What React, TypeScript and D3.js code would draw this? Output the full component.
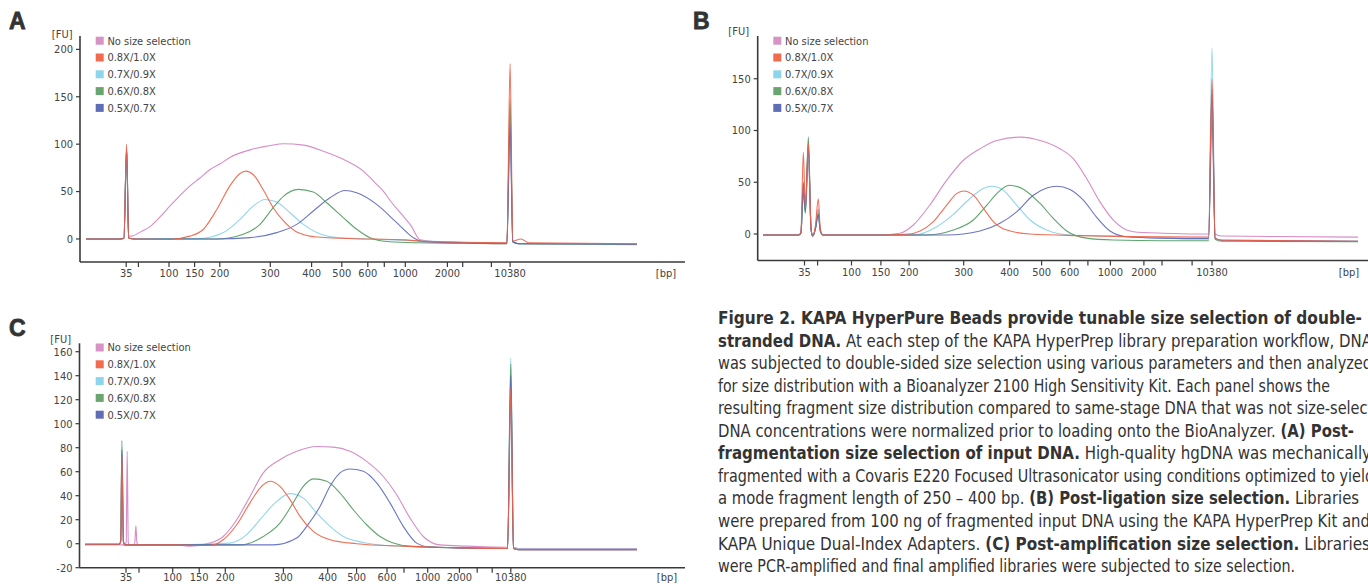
import React from 'react';
import * as d3 from 'd3';

// ladder sizes used on the size axis (bp)
const ladderBp = [35, 50, 100, 150, 200, 300, 400, 500, 600, 700, 1000, 2000, 3000, 7000, 10380];
const labeledBp = [35, 100, 150, 200, 300, 400, 500, 600, 1000, 2000, 10380];
const seriesNames = ['No size selection', '0.8X/1.0X', '0.7X/0.9X', '0.6X/0.8X', '0.5X/0.7X'];
const legendColors = ['#d693c4', '#f26b4f', '#8dd5ec', '#6aa46f', '#5f6db4'];
const lineColors = ['#d27fc0', '#ee5f45', '#86d0ea', '#4f9a5e', '#5b66bd'];

const yTicksA = [0, 50, 100, 150, 200];
const yTicksB = [0, 50, 100, 150];
const yTicksC = [-20, 0, 20, 40, 60, 80, 100, 120, 140, 160];

// panel A: post-fragmentation  [bp, FU]
const aPink = [[0, 0], [30, 0], [33, 1], [35.5, 97], [38, 3], [41, 3], [55, 8], [69, 13], [85, 23], [102, 35], [120, 45], [141, 56], [160, 64], [180, 73], [200, 79], [220, 86], [260, 94], [300, 98.6], [332, 100.5], [380, 99], [439, 92.6], [506, 84], [583, 71.6], [640, 60], [694, 50.5], [800, 39], [971, 24], [1150, 13], [1349, -1], [2170, -4], [5000, -4.5], [9800, -5], [10380, 132], [10900, -3], [12000, -5], [35000, -6]];
const aRed = [[0, 0], [30, 0], [33, 1], [35.5, 100], [38, 1], [45, 0], [100, -0.5], [141, 3], [167, 10], [194, 31], [220, 56], [240, 69], [252, 71.6], [266, 68], [286, 52], [307, 33], [332, 19], [364, 7.4], [417, 2], [531, 0.5], [1000, -1], [1271, -2], [3000, -3.5], [9800, -4], [10380, 185], [10900, -2], [12500, 0], [14000, -4], [35000, -5]];
const aCyan = [[0, 0], [30, 0], [33, 0.5], [35.5, 95], [38, 1], [45, 0], [161, 0.5], [207, 6.7], [240, 20.7], [266, 34.7], [289.5, 41.7], [315.5, 39], [347.7, 27.7], [380, 15.4], [417, 6.7], [483, 1.4], [596, 0], [1000, -1.5], [2000, -3], [9800, -4.5], [10380, 125], [10900, -3], [12000, -5], [35000, -5.5]];
const aGreen = [[0, 0], [30, 0], [33, 0.5], [35.5, 94], [38, 1], [45, 0], [194, 0], [246.5, 5], [279.6, 15.4], [307, 33], [331.7, 45], [367.8, 52.3], [405.6, 49.5], [450, 38.2], [505.8, 22.5], [557.3, 10.2], [613, 1.4], [781, -3], [1271, -4], [3000, -4.5], [9800, -5], [10380, 147], [10900, -3], [12000, -5], [35000, -5.5]];
const aBlue = [[0, 0], [30, 0], [33, 0.5], [35.5, 96], [38, 1], [45, 0], [194, 0], [260, 1.4], [315.5, 6.7], [363.9, 15.4], [405.6, 29.5], [460.9, 43.5], [512.3, 51.2], [557.3, 48.7], [653.6, 36.5], [877, 17.2], [1190, 1.4], [1427, -3], [3000, -4], [9800, -4.5], [10380, 120], [10900, -3], [12000, -5], [35000, -5.5]];

// panel B: post-ligation
const bPink = [[0, -1], [30, -1], [32, 1], [34, 45], [36, 25], [39.4, 82], [42.5, 5], [44.5, -2], [47.5, 6], [51, 24], [54, 3], [58, -1], [100, -1], [148.5, -1], [184, 0.7], [207.7, 8.7], [238, 28], [269, 52], [299, 71], [335.5, 82.4], [372, 90.4], [432.5, 93.6], [495, 90.4], [565, 82.4], [619, 72.8], [693, 53.6], [861, 31], [1087, 13.5], [1684, 2.2], [3173, 0.7], [7781, 0], [9800, 0], [10380, 110], [10900, 0], [12000, -2], [35000, -3]];
const bRed = [[0, -1], [30, -1], [32, 2], [34, 79], [36, 25], [39.4, 88], [42.5, 5], [44.5, -2], [47.5, 8], [51, 34], [54, 5], [58, -1], [150, -1], [200, 0], [220, 2.9], [244, 11.8], [269, 28], [287, 39], [299, 41.6], [321, 37.5], [343, 24.7], [365, 11.8], [394, 3.8], [464, 0], [656, -1.6], [1500, -2.5], [9800, -3], [10380, 150], [10900, -4], [12000, -6], [35000, -7]];
const bCyan = [[0, -1], [30, -1], [32, 1], [34, 42], [36, 20], [39.4, 78], [42.5, 4], [44.5, -2], [47.5, 5], [51, 22], [54, 3], [58, -1], [150, -1], [208, -1], [250.6, 7], [281, 19], [313.7, 34.3], [342.7, 44], [361, 46.2], [386.3, 42.3], [422, 27.9], [464, 13.5], [518, 3.8], [601, -1], [1090, -2], [3000, -4], [9800, -4.5], [10380, 180], [10900, -4], [12000, -6], [35000, -7]];
const bGreen = [[0, -1], [30, -1], [32, 1], [34, 40], [36, 20], [39.4, 94], [42.5, 5], [44.5, -2], [47.5, 5], [51, 20], [54, 3], [58, -1], [150, -1], [230, -1], [281, 3.8], [321, 13.5], [350.5, 27.9], [372, 39], [399.3, 47.1], [442.8, 43.3], [495, 29.5], [541.5, 15.1], [589, 2.9], [693, -4], [1080, -5.8], [3000, -6.5], [9800, -6.5], [10380, 135], [10900, -5], [12000, -7], [35000, -7.5]];
const bBlue = [[0, -1], [30, -1], [32, 1], [34, 50], [36, 22], [39.4, 85], [42.5, 5], [44.5, -2], [47.5, 5], [51, 18], [54, 3], [58, -1], [150, -1], [269, -1], [335.5, 2.9], [379, 10.3], [422, 21.4], [474, 37.5], [518, 44.5], [553.4, 46.2], [601, 43], [674.6, 32.7], [812, 16.6], [995, 2.9], [1486, -2.6], [3000, -4], [9800, -4.5], [10380, 140], [10900, -4], [12000, -6], [35000, -7]];

// panel C: post-amplification
const cPink = [[0, -1], [33, -1], [35.2, 1], [36.4, 77], [37.6, 1], [39, -1], [44, -1], [45.2, 1], [46.4, 15], [47.6, 1], [49, -1], [100, -1], [132.6, -2], [170.7, 0.5], [196, 6], [219.6, 20], [242.5, 39.4], [265.4, 59], [294, 70], [330, 77], [375, 81], [419.4, 80.5], [477, 77], [533, 68.6], [588, 56], [657, 40.8], [776, 21.4], [944, 6], [1387, -1], [2410, -2], [9800, -3], [10380, 120], [10900, -3], [12000, -4], [35000, -4]];
const cRed = [[0, -0.5], [29, -0.5], [30.5, 2], [31.5, 74], [32.8, 2], [34, -1], [100, -1], [170, -1.5], [196, 3.3], [219.6, 15.8], [242.5, 34], [259.7, 46.4], [277, 52], [294, 47.8], [315, 36.7], [337.5, 22.8], [367.5, 10.3], [408, 3.3], [500, 0], [617.6, -1.7], [700, -2], [2000, -3.5], [9800, -4], [10380, 130], [10900, -4], [12000, -5], [35000, -5]];
const cCyan = [[0, -0.5], [29, -0.5], [30.5, 2], [31.5, 76], [32.8, 2], [34, -1], [100, -1], [208, 0.5], [236.8, 7.5], [259.7, 20], [282.6, 32.5], [315, 41.7], [345, 38], [375, 25.6], [408, 14.4], [454, 6], [522, 1], [617.6, -1.7], [1000, -2.5], [2000, -3.5], [9800, -4], [10380, 155], [10900, -3], [12000, -4.5], [35000, -4.5]];
const cGreen = [[0, -0.5], [29, -0.5], [30.5, 2], [31.5, 86], [32.8, 2], [34, -1], [100, -1], [225.3, -1], [265.4, 6], [294, 17.2], [322, 34], [345, 47.8], [367.5, 54], [397.8, 52], [442.6, 42.2], [488.6, 28.3], [533, 15.8], [577, 6], [637, 0.5], [776, -2.2], [2000, -3.5], [9800, -4], [10380, 150], [10900, -4], [12000, -5], [35000, -5]];
const cBlue = [[0, -0.5], [29, -0.5], [30.5, 2], [31.5, 78], [32.8, 2], [34, -1], [100, -1], [282.6, -1], [330, 4.7], [352.6, 14.4], [382.6, 31], [408, 47.8], [442.6, 59], [477, 62.2], [522, 60.3], [566, 50.6], [617.6, 34], [696, 14.4], [861, 0.5], [1072, -2.8], [2000, -3.5], [9800, -4], [10380, 140], [10900, -4], [12000, -5], [35000, -5]];

const captionLines: [string, boolean][][] = [
  [['Figure 2. KAPA HyperPure Beads provide tunable size selection of double-', true]],
  [['stranded DNA.', true], [' At each step of the KAPA HyperPrep library preparation workflow, DNA', false]],
  [['was subjected to double-sided size selection using various parameters and then analyzed', false]],
  [['for size distribution with a Bioanalyzer 2100 High Sensitivity Kit. Each panel shows the', false]],
  [['resulting fragment size distribution compared to same-stage DNA that was not size-selected.', false]],
  [['DNA concentrations were normalized prior to loading onto the BioAnalyzer. ', false], ['(A) Post-', true]],
  [['fragmentation size selection of input DNA.', true], [' High-quality hgDNA was mechanically', false]],
  [['fragmented with a Covaris E220 Focused Ultrasonicator using conditions optimized to yield', false]],
  [['a mode fragment length of 250 – 400 bp. ', false], ['(B) Post-ligation size selection.', true], [' Libraries', false]],
  [['were prepared from 100 ng of fragmented input DNA using the KAPA HyperPrep Kit and', false]],
  [['KAPA Unique Dual-Index Adapters. ', false], ['(C) Post-amplification size selection.', true], [' Libraries', false]],
  [['were PCR-amplified and final amplified libraries were subjected to size selection.', false]],
];
const captionWidths = [644, 654, 654, 612, 678, 636, 653, 656, 641, 652, 652, 577];

const FONT = "'Liberation Sans Narrow', 'DejaVu Sans Condensed', Roboto, sans-serif";

const panels = [
  {
    letter: 'A', letterX: 9, letterY: 29,
    axisX: 80, axisEnd: 685, top: 36, bottom: 262, yDomain: [-24.3, 214.1], yTicks: yTicksA,
    ladderPx: [126.2, 138.4, 169, 194.6, 219.8, 270.3, 311.6, 341.8, 367.8, 384.3, 405.3, 447.4, 462.7, 491.4, 510.1],
    dataStart: 86, dataEnd: 637, legendX: 95.7, legendY: 36.7, fuX: 72.5, fuY: 37.5, bpX: 666, labelDy: 15,
    series: [aPink, aRed, aCyan, aGreen, aBlue],
  },
  {
    letter: 'B', letterX: 693, letterY: 29,
    axisX: 757.7, axisEnd: 1368, top: 36, bottom: 260.5, yDomain: [-25.6, 191.3], yTicks: yTicksB,
    ladderPx: [804.5, 817.6, 851.5, 880.9, 909.1, 963.7, 1009.6, 1041.6, 1069.8, 1087.9, 1110.4, 1143.9, 1162, 1192.1, 1212],
    dataStart: 763, dataEnd: 1358, legendX: 773.3, legendY: 36.7, fuX: 749, fuY: 34.5, bpX: 1349, labelDy: 15.5,
    series: [bPink, bRed, bCyan, bGreen, bBlue],
  },
  {
    letter: 'C', letterX: 9, letterY: 336,
    axisX: 79.5, axisEnd: 685, top: 343.3, bottom: 567.7, yDomain: [-20, 167], yTicks: yTicksC,
    ladderPx: [126, 139, 172.7, 199.2, 225.3, 283.4, 327.7, 356.6, 387, 404, 427.7, 459.4, 477.2, 492.2, 510.8],
    dataStart: 85, dataEnd: 637, legendX: 95.7, legendY: 343.5, fuX: 71, fuY: 342.5, bpX: 667, labelDy: 13.3,
    series: [cPink, cRed, cCyan, cGreen, cBlue],
  },
];

const drawOrder = [0, 2, 3, 4, 1];

function Panel({ p }: { p: any }) {
  const x = d3.scaleLinear().domain([0, ...ladderBp, 35000]).range([p.dataStart, ...p.ladderPx, p.dataEnd]);
  const y = d3.scaleLinear().domain(p.yDomain).range([p.bottom, p.top]);
  const line = d3.line<number[]>().x(d => x(d[0])).y(d => y(d[1])).curve(d3.curveMonotoneX);
  return (
    <g>
      <text x={p.letterX} y={p.letterY} fontFamily="'Liberation Sans', Arial, sans-serif" fontWeight="900" fontSize={23} fill="#333" stroke="#333" strokeWidth={0.8}>{p.letter}</text>
      <text x={p.fuX} y={p.fuY} textAnchor="end" fontFamily={FONT} fontSize={11} fill="#444">[FU]</text>
      {drawOrder.map(i => (
        <path key={i} d={line(p.series[i]) || ''} fill="none" stroke={lineColors[i]} strokeWidth={1.1} strokeOpacity={0.9} />
      ))}
      <line x1={p.axisX} x2={p.axisX} y1={p.top} y2={p.bottom} stroke="#3a3a3a" strokeWidth={1.6} />
      <line x1={p.axisX} x2={p.axisEnd} y1={p.bottom} y2={p.bottom} stroke="#3a3a3a" strokeWidth={1.6} />
      {p.yTicks.map((t: number) => (
        <g key={t}>
          <line x1={p.axisX - 4} x2={p.axisX} y1={y(t)} y2={y(t)} stroke="#3a3a3a" strokeWidth={1.2} />
          <text x={p.axisX - 7} y={y(t)} dy="0.35em" textAnchor="end" fontFamily={FONT} fontSize={11} fill="#444">{t}</text>
        </g>
      ))}
      {ladderBp.map(b => (
        <line key={b} x1={x(b)} x2={x(b)} y1={p.bottom} y2={p.bottom + 5} stroke="#3a3a3a" strokeWidth={1.2} />
      ))}
      {labeledBp.map(b => (
        <text key={b} x={x(b)} y={p.bottom + p.labelDy} textAnchor="middle" fontFamily={FONT} fontSize={11} fill="#444">{b}</text>
      ))}
      <text x={p.bpX} y={p.bottom + p.labelDy} textAnchor="middle" fontFamily={FONT} fontSize={11} fill="#444">[bp]</text>
      {seriesNames.map((n, i) => (
        <g key={n}>
          <rect x={p.legendX} y={p.legendY + i * 16.8} width={8} height={8} fill={legendColors[i]} />
          <text x={p.legendX + 11.7} y={p.legendY + i * 16.8 + 7.8} fontFamily={FONT} fontSize={11} fill="#444">{n}</text>
        </g>
      ))}
    </g>
  );
}

export default function App() {
  return (
    <svg width={1368} height={584} style={{ position: 'absolute', left: 0, top: 0, background: '#fff' }}>
      <rect width={1368} height={584} fill="#fff" />
      {panels.map(p => <Panel key={p.letter} p={p} />)}
      {captionLines.map((segs, i) => (
        <text key={i} x={718} y={324 + i * 22.55} fontFamily={FONT} fontSize={17} fill="#333"
          textLength={captionWidths[i]} lengthAdjust="spacingAndGlyphs">
          {segs.map(([s, b], j) => (
            <tspan key={j} fontWeight={b ? 'bold' : 'normal'}>{s}</tspan>
          ))}
        </text>
      ))}
    </svg>
  );
}
